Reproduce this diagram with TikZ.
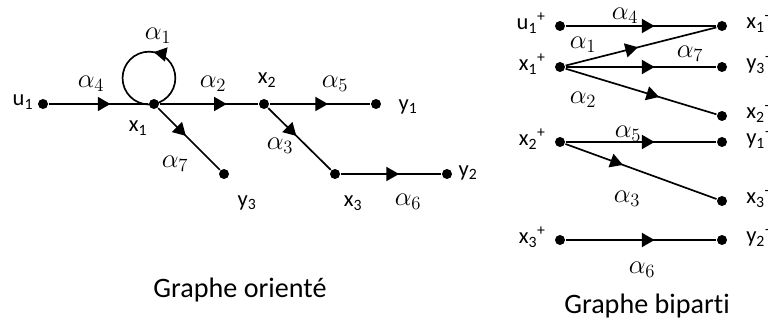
\RequirePackage{fix-cm}
\documentclass[tikz,border=0pt]{standalone}
\usepackage{amsmath}
\usepackage{fontspec}
\newfontfamily\cfont[Ligatures=NoCommon]{Carlito}
\usetikzlibrary{arrows.meta,decorations.markings}

\begin{document}
\begin{tikzpicture}[line width=1.2pt,
  pt/.style={circle,fill,inner sep=0pt,minimum size=0.25cm},
  lab/.style={font=\cfont\fontsize{16}{18}\selectfont,inner sep=1pt},
  al/.style={font=\fontsize{19}{23}\selectfont,inner sep=1pt},
  ttl/.style={font=\cfont\fontsize{20}{24}\selectfont},
  marr/.style={postaction={decorate},decoration={markings,
    mark=at position #1 with {\arrow{Triangle[length=9pt,width=10pt]}}}}]
  \useasboundingbox (0,0) rectangle (19.2,8.2);
  % graphe oriente
  \node[pt] (u1) at (1.075,5.6) {};
  \node[pt] (x1) at (3.85,5.6) {};
  \node[pt] (x2) at (6.6,5.6) {};
  \node[pt] (y1) at (9.4,5.6) {};
  \node[pt] (y3) at (5.6,3.85) {};
  \node[pt] (x3) at (8.375,3.85) {};
  \node[pt] (y2) at (11.175,3.85) {};
  \draw[marr=0.62] (u1) -- (x1);
  \draw[marr=0.44] (x1.center) arc[start angle=-79,end angle=281,radius=0.66];
  \draw[marr=0.68] (x1) -- (x2);
  \draw[marr=0.58] (x2) -- (y1);
  \draw[marr=0.45] (x1) -- (y3);
  \draw[marr=0.45] (x2) -- (x3);
  \draw[marr=0.58] (x3) -- (y2);
  \node[lab] (lu1) at (0.575,5.65) {u\textsubscript{1}};
  \node[lab] (lx1) at (3.45,5.0) {x\textsubscript{1}};
  \node[lab] (lx2) at (6.675,6.2) {x\textsubscript{2}};
  \node[lab] (ly1) at (10.2,5.525) {y\textsubscript{1}};
  \node[lab] (ly3) at (6.175,3.125) {y\textsubscript{3}};
  \node[lab] (lx3) at (8.825,3.125) {x\textsubscript{3}};
  \node[lab] (ly2) at (11.7,3.875) {y\textsubscript{2}};
  \node[al] (a1) at (3.95,7.3) {$\alpha_1$};
  \node[al] (a2) at (5.325,6.1) {$\alpha_2$};
  \node[al] (a3) at (7.0,4.55) {$\alpha_3$};
  \node[al] (a4) at (2.275,6.1) {$\alpha_4$};
  \node[al] (a5) at (8.375,6.1) {$\alpha_5$};
  \node[al] (a6) at (10.2,3.15) {$\alpha_6$};
  \node[al] (a7) at (4.375,4.1) {$\alpha_7$};
  \node[ttl] (t1) at (6.0,0.95) {Graphe orienté};
  % graphe biparti
  \node[pt] (u1p) at (14.0,7.55) {};
  \node[pt] (x1p) at (14.0,6.525) {};
  \node[pt] (x2p) at (14.0,4.65) {};
  \node[pt] (x3p) at (14.0,2.2) {};
  \node[pt] (x1m) at (18.05,7.55) {};
  \node[pt] (y3m) at (18.05,6.525) {};
  \node[pt] (x2m) at (18.05,5.3) {};
  \node[pt] (y1m) at (18.05,4.65) {};
  \node[pt] (x3m) at (18.05,3.175) {};
  \node[pt] (y2m) at (18.05,2.2) {};
  \draw[marr=0.59] (u1p) -- (x1m);
  \draw[marr=0.48] (x1p) -- (x1m);
  \draw[marr=0.59] (x1p) -- (y3m);
  \draw[marr=0.62] (x1p) -- (x2m);
  \draw[marr=0.59] (x2p) -- (y1m);
  \draw[marr=0.38] (x2p) -- (x3m);
  \draw[marr=0.59] (x3p) -- (y2m);
  \node[lab,anchor=east] (lu1p) at (13.7,7.62) {u\textsubscript{1}\textsuperscript{+}};
  \node[lab,anchor=east] (lx1p) at (13.7,6.6) {x\textsubscript{1}\textsuperscript{+}};
  \node[lab,anchor=east] (lx2p) at (13.7,4.72) {x\textsubscript{2}\textsuperscript{+}};
  \node[lab,anchor=east] (lx3p) at (13.7,2.27) {x\textsubscript{3}\textsuperscript{+}};
  \node[lab,anchor=west] (lx1m) at (18.6,7.6) {x\textsubscript{1}\textsuperscript{-}};
  \node[lab,anchor=west] (ly3m) at (18.6,6.575) {y\textsubscript{3}\textsuperscript{-}};
  \node[lab,anchor=west] (lx2m) at (18.6,5.35) {x\textsubscript{2}\textsuperscript{-}};
  \node[lab,anchor=west] (ly1m) at (18.6,4.7) {y\textsubscript{1}\textsuperscript{-}};
  \node[lab,anchor=west] (lx3m) at (18.6,3.225) {x\textsubscript{3}\textsuperscript{-}};
  \node[lab,anchor=west] (ly2m) at (18.6,2.25) {y\textsubscript{2}\textsuperscript{-}};
  \node[al] (b4) at (15.625,7.8) {$\alpha_4$};
  \node[al] (b1) at (14.575,7.08) {$\alpha_1$};
  \node[al] (b7) at (17.25,6.85) {$\alpha_7$};
  \node[al] (b2) at (14.575,5.7) {$\alpha_2$};
  \node[al] (b5) at (15.7,4.85) {$\alpha_5$};
  \node[al] (b3) at (15.675,3.22) {$\alpha_3$};
  \node[al] (b6) at (16.05,1.45) {$\alpha_6$};
  \node[ttl] (t2) at (16.175,0.55) {Graphe biparti};
\end{tikzpicture}
\end{document}
